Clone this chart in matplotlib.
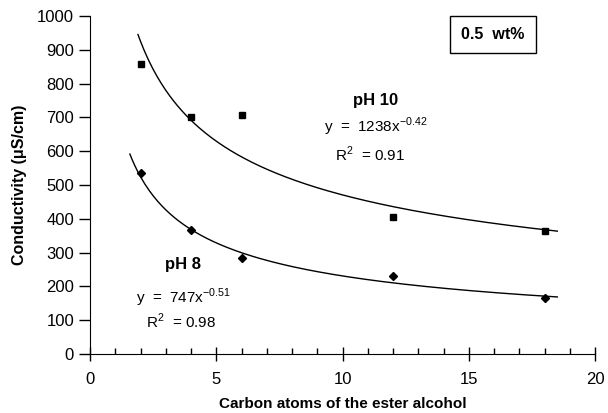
import numpy as np
import matplotlib
matplotlib.use("Agg")
import matplotlib.pyplot as plt
from matplotlib.ticker import MultipleLocator

plt.rcParams['font.family'] = ['Liberation Sans', 'DejaVu Sans']

carbon = [2, 4, 6, 12, 18]
ph10 = [858, 700, 708, 405, 365]
ph8 = [535, 367, 285, 232, 167]
fit10 = (1238, -0.42)
fit8 = (747, -0.51)

fig = plt.figure(figsize=(6.08, 4.13), dpi=100)
ax = fig.add_axes([0.148, 0.143, 0.831, 0.818])

x10 = np.linspace(1.9, 18.5, 200)
x8 = np.linspace(1.58, 18.5, 200)
ax.plot(x10, fit10[0] * x10 ** fit10[1], color='black', lw=1)
ax.plot(x8, fit8[0] * x8 ** fit8[1], color='black', lw=1)
ax.plot(carbon, ph10, 's', color='black', ms=4.8, ls='none')
ax.plot(carbon, ph8, 'D', color='black', ms=3.6, ls='none')

ax.set_xlim(0, 20)
ax.set_ylim(0, 1000)
ax.xaxis.set_major_locator(MultipleLocator(5))
ax.xaxis.set_minor_locator(MultipleLocator(1))
ax.yaxis.set_major_locator(MultipleLocator(100))
for s in ['top', 'right']:
    ax.spines[s].set_visible(False)
ax.tick_params(axis='x', which='major', direction='inout', length=10, width=1, labelsize=12, pad=8)
ax.tick_params(axis='x', which='minor', direction='in', length=4, width=1)
ax.tick_params(axis='y', which='major', direction='out', length=8, width=1, labelsize=12)
ax.set_xlabel('Carbon atoms of the ester alcohol', fontsize=11, fontweight='bold', labelpad=7)
ax.set_ylabel('Conductivity (\u03bcS/cm)', fontsize=11.5, fontweight='bold', labelpad=7)

ax.text(15.95, 945, '0.5  wt%', fontsize=11.5, fontweight='bold', ha='center', va='center',
        bbox=dict(boxstyle='square,pad=0.7', facecolor='white', edgecolor='black', lw=1))
ax.text(11.3, 750, 'pH 10', fontsize=12, fontweight='bold', ha='center', va='center')
ax.text(11.3, 672, r'y  =  1238x$^{\mathregular{-0.42}}$', fontsize=11, ha='center', va='center')
ax.text(11.1, 590, r'R$^{\mathregular{2}}$  = 0.91', fontsize=11, ha='center', va='center')
ax.text(3.7, 265, 'pH 8', fontsize=12, fontweight='bold', ha='center', va='center')
ax.text(3.7, 165, r'y  =  747x$^{\mathregular{-0.51}}$', fontsize=11, ha='center', va='center')
ax.text(3.6, 95, r'R$^{\mathregular{2}}$  = 0.98', fontsize=11, ha='center', va='center')

fig.savefig('out.png', dpi=100)
